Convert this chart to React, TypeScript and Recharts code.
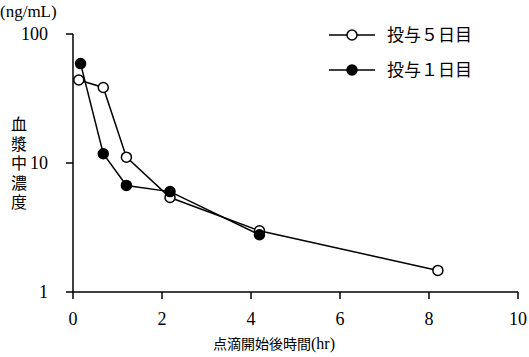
import { Line, LineChart, XAxis, YAxis } from 'recharts';

// 投与1日目 (filled markers)
const day1Time = [0.17, 0.68, 1.2, 2.18, 4.19];
const day1Conc = [59, 11.8, 6.7, 6.0, 2.78];
// 投与5日目 (open markers)
const day5Time = [0.13, 0.68, 1.2, 2.18, 4.19, 8.2];
const day5Conc = [44, 38.5, 11.1, 5.4, 2.98, 1.47];

const xTicks = [0, 2, 4, 6, 8, 10];
const yTicks = [1, 10, 100];
const yTitle = '血漿中濃度';
const legendRows = [
  { name: '投与５日目', fill: '#fff' },
  { name: '投与１日目', fill: '#000' },
];

const day1 = day1Time.map((t, i) => ({ t, c: day1Conc[i] }));
const day5 = day5Time.map((t, i) => ({ t, c: day5Conc[i] }));

const serif = '"Liberation Serif", serif';
const cjk = '"Noto Sans CJK JP", sans-serif';

function XTick({ x, y, payload }: any) {
  return (
    <text x={x} y={y + 24} textAnchor="middle" fontFamily={serif} fontSize={18} fill="#000">
      {payload.value}
    </text>
  );
}

function YTick({ x, y, payload }: any) {
  return (
    <text x={x - 16} y={y + 6} textAnchor="end" fontFamily={serif} fontSize={18} fill="#000">
      {payload.value}
    </text>
  );
}

export default function App() {
  return (
    <div style={{ position: 'absolute', left: 0, top: 0 }}>
      <LineChart width={529} height={357} margin={{ top: 34, right: 11, left: 0, bottom: 0 }}>
        <text x={0} y={17} fontFamily={serif} fontSize={17} fill="#000">(ng/mL)</text>
        <text
          x={19}
          y={116}
          fontFamily={cjk}
          fontSize={16}
          fill="#000"
          style={{ writingMode: 'vertical-rl', letterSpacing: 3.5 }}
        >
          {yTitle}
        </text>
        <text x={213} y={349} fontFamily={cjk} fontSize={14} fill="#000">
          点滴開始後時間<tspan fontFamily={serif} fontSize={16}>(hr)</tspan>
        </text>
        {legendRows.map((r, i) => (
          <g key={r.name}>
            <line x1={329} y1={35 + i * 35} x2={375} y2={35 + i * 35} stroke="#000" strokeWidth={1.5} />
            <circle cx={352} cy={35 + i * 35} r={5} fill={r.fill} stroke="#000" strokeWidth={1.5} />
            <text x={387} y={41 + i * 35} fontFamily={cjk} fontSize={17} fill="#000">{r.name}</text>
          </g>
        ))}
        <XAxis
          dataKey="t"
          type="number"
          domain={[0, 10]}
          ticks={xTicks}
          allowDataOverflow
          height={65}
          tickSize={7}
          axisLine={{ stroke: '#000', strokeWidth: 1.5 }}
          tickLine={{ stroke: '#000', strokeWidth: 1.5 }}
          tick={<XTick />}
        />
        <YAxis
          dataKey="c"
          scale="log"
          type="number"
          domain={[1, 100]}
          ticks={yTicks}
          allowDataOverflow
          width={73}
          tickSize={7}
          axisLine={{ stroke: '#000', strokeWidth: 1.5 }}
          tickLine={{ stroke: '#000', strokeWidth: 1.5 }}
          tick={<YTick />}
        />
        <Line
          data={day5}
          dataKey="c"
          name="投与５日目"
          stroke="#000"
          strokeWidth={1.5}
          dot={{ r: 5, fill: '#fff', stroke: '#000', strokeWidth: 1.5 }}
          isAnimationActive={false}
        />
        <Line
          data={day1}
          dataKey="c"
          name="投与１日目"
          stroke="#000"
          strokeWidth={1.5}
          dot={{ r: 5, fill: '#000', stroke: '#000', strokeWidth: 1.5 }}
          isAnimationActive={false}
        />
      </LineChart>
    </div>
  );
}
